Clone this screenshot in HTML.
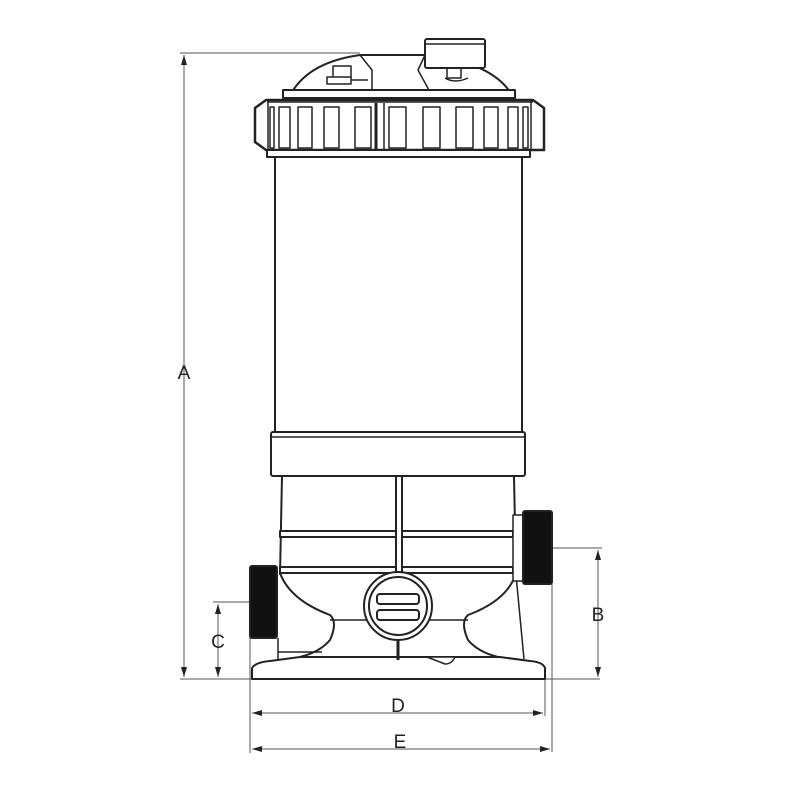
<!DOCTYPE html>
<html><head><meta charset="utf-8"><style>html,body{margin:0;padding:0;background:#fff}svg{display:block}</style></head><body>
<svg width="800" height="800" viewBox="0 0 800 800" xmlns="http://www.w3.org/2000/svg" font-family="Liberation Sans, sans-serif">
<defs>
<marker id="ar" markerWidth="10" markerHeight="8" refX="10" refY="4" orient="auto-start-reverse" markerUnits="userSpaceOnUse"><path d="M0,1 L10,4 L0,7 Z" fill="#222"/></marker>
</defs>
<g stroke="#555" stroke-width="1" fill="none">
<line x1="180" y1="53" x2="360" y2="53"/>
<line x1="184" y1="55" x2="184" y2="677" marker-start="url(#ar)" marker-end="url(#ar)"/>
<line x1="180" y1="679" x2="600" y2="679"/>
<line x1="553" y1="548" x2="602" y2="548"/>
<line x1="598" y1="550" x2="598" y2="677" marker-start="url(#ar)" marker-end="url(#ar)"/>
<line x1="213" y1="602" x2="250" y2="602"/>
<line x1="218" y1="604" x2="218" y2="677" marker-start="url(#ar)" marker-end="url(#ar)"/>
<line x1="250" y1="602" x2="250" y2="753"/>
<line x1="545" y1="679" x2="545" y2="716"/>
<line x1="552" y1="584" x2="552" y2="752"/>
<line x1="252" y1="713" x2="543" y2="713" marker-start="url(#ar)" marker-end="url(#ar)"/>
<line x1="252" y1="749" x2="550" y2="749" marker-start="url(#ar)" marker-end="url(#ar)"/>
</g>
<g fill="#222" font-size="19" text-anchor="middle">
<text x="184" y="379">A</text>
<text x="598" y="621">B</text>
<text x="218" y="648">C</text>
<text x="398" y="712">D</text>
<text x="400" y="748">E</text>
</g>
<g stroke="#222" stroke-width="2" fill="#fff" stroke-linejoin="round">
<path d="M292,92 Q310,62 360,55 L425,55 Q490,62 510,92 Z"/>
<path d="M360,55 L372,70 L372,92 M425,55 L418,70 L430,92" fill="none" stroke-width="1.5"/>
<path d="M328,80 L368,80" fill="none" stroke-width="1.5"/>
<rect x="333" y="66" width="18" height="12" stroke-width="1.5"/>
<rect x="327" y="77" width="24" height="7" stroke-width="1.5"/>
<rect x="447" y="66" width="14" height="12" stroke-width="1.5"/>
<path d="M445,78 Q455,84 468,78" fill="none" stroke-width="1.5"/>
<rect x="425" y="39" width="60" height="29" rx="2"/>
<line x1="426" y1="44" x2="484" y2="44" stroke-width="1.5"/>
<rect x="283" y="90" width="232" height="8"/>
<path d="M266,100 L533,100 L544,108 L544,150 L266,150 L255,142 L255,108 Z" stroke-width="2.5"/>
<line x1="267" y1="102" x2="533" y2="102" stroke-width="1.5"/>
<line x1="268" y1="100" x2="268" y2="150" stroke-width="1.5"/>
<line x1="531" y1="100" x2="531" y2="150" stroke-width="1.5"/>
<g stroke-width="1.5">
<rect x="270" y="107" width="4" height="41"/><rect x="279" y="107" width="11" height="41"/>
<rect x="298" y="107" width="14" height="41"/><rect x="324" y="107" width="15" height="41"/>
<rect x="355" y="107" width="16" height="41"/>
<rect x="389" y="107" width="17" height="41"/><rect x="423" y="107" width="17" height="41"/>
<rect x="456" y="107" width="17" height="41"/><rect x="484" y="107" width="14" height="41"/>
<rect x="508" y="107" width="10" height="41"/><rect x="523" y="107" width="5" height="41"/>
</g>
<line x1="376" y1="103" x2="376" y2="150" stroke-width="3"/>
<line x1="384" y1="103" x2="384" y2="150" stroke-width="1.5"/>
<rect x="267" y="150" width="263" height="7"/>
<rect x="275" y="157" width="247" height="276"/>
<rect x="271" y="432" width="254" height="44" rx="2"/>
<line x1="271" y1="437" x2="525" y2="437" stroke-width="1.5"/>
<!-- cage -->
<path d="M282,476 L280,575 M514,476 L516,575" fill="none"/>
<!-- base body fill -->
<path d="M280,573 Q290,600 330,615 Q338,622 330,640 Q320,652 300,657 L498,657 Q478,652 468,640 Q460,622 468,615 Q508,600 516,573 Z" stroke="none"/>
<path d="M280,573 Q290,600 330,615 Q338,622 330,640 Q320,652 300,657" fill="none"/>
<path d="M516,573 Q508,600 468,615 Q460,622 468,640 Q478,652 498,657" fill="none"/>
<line x1="330" y1="620" x2="468" y2="620" stroke-width="1.5"/>
<line x1="278" y1="638" x2="278" y2="660" stroke-width="1.5"/>
<line x1="278" y1="652" x2="322" y2="652" stroke-width="1.5"/>
<line x1="516" y1="575" x2="524" y2="659" stroke-width="1.5"/>
<rect x="280" y="531" width="233" height="6"/>
<rect x="280" y="567" width="233" height="6"/>
<rect x="396" y="476" width="6" height="96"/>
<path d="M252,668 Q256,662 270,661 L300,657 L500,657 L530,661 Q543,662 545,668 L545,679 L252,679 Z"/>
<line x1="398" y1="640" x2="398" y2="660" stroke-width="3"/>
<path d="M427,657 L455,657 Q452,664 445,664 Z" stroke-width="1.5"/>
<circle cx="398" cy="606" r="34"/>
<circle cx="398" cy="606" r="29"/>
<rect x="377" y="594" width="42" height="10" rx="3"/>
<rect x="377" y="610" width="42" height="10" rx="3"/>
<rect x="513" y="515" width="12" height="66" stroke-width="1.5"/>
<rect x="523" y="511" width="29" height="73" rx="2" fill="#111"/>
<rect x="250" y="566" width="27" height="72" rx="2" fill="#111"/>
</g>
</svg>
</body></html>
